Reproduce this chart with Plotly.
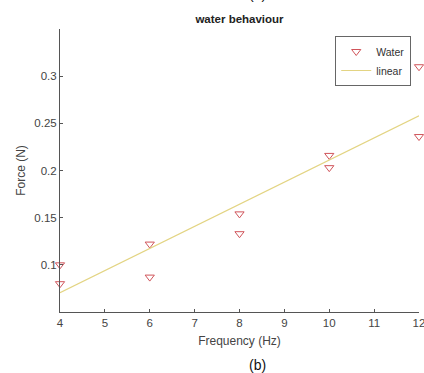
import plotly.graph_objects as go

# Data
freq = [4, 4, 6, 6, 8, 8, 10, 10, 12, 12]
force = [0.100, 0.080, 0.122, 0.087, 0.154, 0.133, 0.216, 0.203, 0.310, 0.236]
linear_x = [4, 12]
linear_y = [0.0705, 0.258]

x_ticks = [4, 5, 6, 7, 8, 9, 10, 11, 12]
y_ticks = [0.1, 0.15, 0.2, 0.25, 0.3]
y_tick_text = ["0.1", "0.15", "0.2", "0.25", "0.3"]

W, H = 424, 373
L, R, T, B = 59.5, 4.5, 29, 61.3
ph = H - T - B
pw = W - L - R

axis_col = "#555555"
font_fam = "Liberation Sans, Arial, sans-serif"

fig = go.Figure()
fig.add_trace(go.Scatter(
    x=freq, y=force, mode="markers", name="Water",
    marker=dict(symbol="triangle-down-open", size=8, color="#d0545a", line=dict(width=1)),
    cliponaxis=False,
))
fig.add_trace(go.Scatter(
    x=linear_x, y=linear_y, mode="lines", name="linear",
    line=dict(color="#e3d483", width=1.2),
))

fig.update_layout(
    width=W, height=H,
    margin=dict(l=L, r=R, t=T, b=B, autoexpand=False),
    paper_bgcolor="white", plot_bgcolor="white",
    font=dict(family=font_fam, color="#444444", size=11),
    showlegend=True,
    legend=dict(
        x=(411.7 - L) / pw, xanchor="right",
        y=1 - (36 - T) / ph, yanchor="top",
        bordercolor="#666666", borderwidth=1, bgcolor="white",
        font=dict(size=10.5, color="#333333"),
        tracegroupgap=0, itemwidth=30,
    ),
    xaxis=dict(
        range=[4, 12], tickmode="array", tickvals=x_ticks,
        ticks="inside", ticklen=3, tickcolor=axis_col,
        showline=True, linecolor=axis_col, linewidth=1,
        showgrid=False, zeroline=False, ticklabeloverflow="allow",
        tickfont=dict(size=11.5, color="#444444"),
        title=dict(text="Frequency (Hz)", font=dict(size=12, color="#444444"), standoff=8),
    ),
    yaxis=dict(
        range=[0.05, 0.35], tickmode="array", tickvals=y_ticks, ticktext=y_tick_text,
        ticks="inside", ticklen=3, tickcolor=axis_col,
        showline=True, linecolor=axis_col, linewidth=1,
        showgrid=False, zeroline=False,
        tickfont=dict(size=11.5, color="#444444"),
        title=dict(text="Force (N)", font=dict(size=12, color="#444444"), standoff=6),
    ),
    title=dict(text="<b>water behaviour</b>", x=(L + pw / 2) / W, xanchor="center",
               y=1 - 19 / H, yanchor="middle", font=dict(size=11.5, color="#222222")),
    annotations=[
        dict(text="(b)", x=(258 - L) / pw, xref="paper", y=1 - (365 - T) / ph,
             yref="paper", yanchor="middle", showarrow=False,
             font=dict(size=14, color="#111111")),
        dict(text="(a)", x=(258 - L) / pw, xref="paper", y=1 + (T - 4) / ph,
             yref="paper", yanchor="bottom", showarrow=False,
             font=dict(size=14, color="#111111")),
    ],
)

fig.write_html(
    "out.html",
    config={"displayModeBar": False},
    post_script="document.body.style.margin='0px';document.body.style.overflow='hidden';",
)
